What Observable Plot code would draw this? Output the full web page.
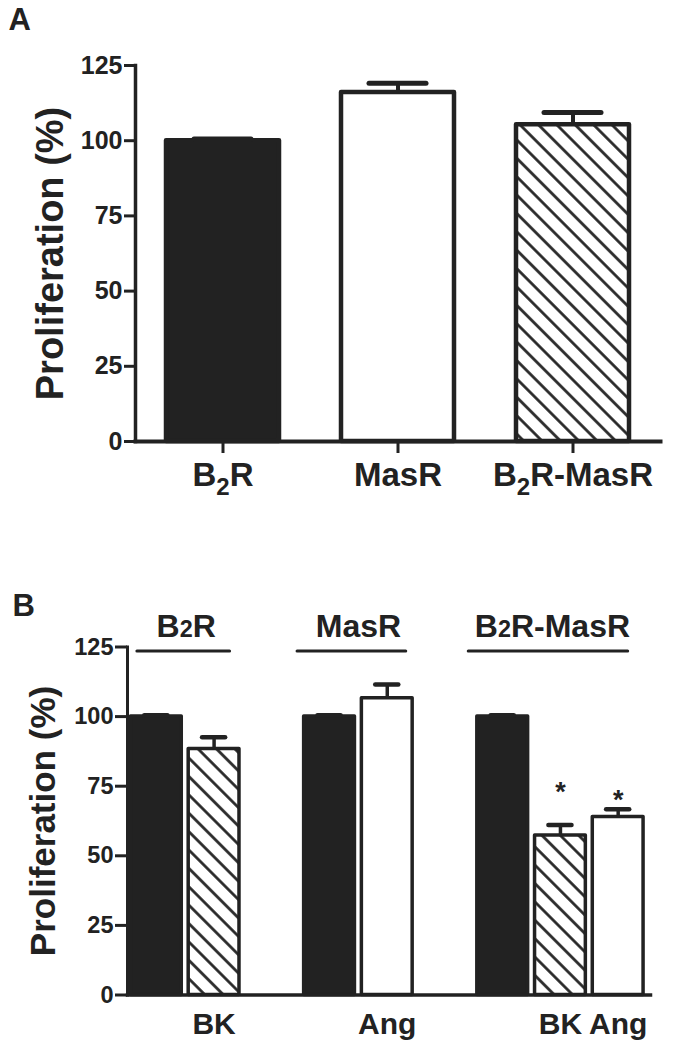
<!DOCTYPE html>
<html><head><meta charset="utf-8">
<script src="https://cdn.jsdelivr.net/npm/d3@7"></script>
<script src="https://cdn.jsdelivr.net/npm/@observablehq/plot@0.6"></script>
<style>
body{margin:0;background:#fff;}
#wrap{position:relative;width:674px;height:1050px;}
.panel{position:absolute;left:0;}
.panel svg{display:block;}
</style></head><body>
<div id="wrap">
 <div class="panel" id="pa" style="top:0"></div>
 <div class="panel" id="pb" style="top:560px"></div>
</div>
<script>
// ---------- Panel A data ----------
const receptorsA = ["B2R", "MasR", "B2R-MasR"];
const meanA = [100, 116, 105.3];
const semA = [0.6, 3.1, 4.1];
const kindA = ["solid", "open", "hatch"];

// ---------- Panel B data ----------
const slotsB = ["B2R:ctrl", "B2R:BK", "gap1", "MasR:ctrl", "MasR:Ang", "gap2", "B2R-MasR:ctrl", "B2R-MasR:BK", "B2R-MasR:Ang"];
const barSlotsB = ["B2R:ctrl", "B2R:BK", "MasR:ctrl", "MasR:Ang", "B2R-MasR:ctrl", "B2R-MasR:BK", "B2R-MasR:Ang"];
const groupB = ["B2R", "B2R", "MasR", "MasR", "B2R-MasR", "B2R-MasR", "B2R-MasR"];
const treatB = ["ctrl", "BK", "ctrl", "Ang", "ctrl", "BK", "Ang"];
const meanB = [100, 88.4, 100, 106.6, 100, 57.3, 63.9];
const semB = [0.5, 4.2, 0.5, 4.9, 0.5, 3.8, 2.8];
const starB = [null, null, null, null, null, 75, 72];
const groupsB = ["B2R", "MasR", "B2R-MasR"];

const yTicks = [0, 25, 50, 75, 100, 125];
const yLabel = "Proliferation (%)";
const panelLetters = ["A", "B"];

// ---------- styles ----------
const INK = "#222";
const FONT = "'Liberation Sans', Arial, Helvetica, sans-serif";
const kindFill = (id) => ({solid: INK, open: "white", hatch: `url(#${id})`});
const kindOfTreat = {ctrl: "solid", BK: "hatch", Ang: "open"};

function addHatch(svg, id) {
  const ns = "http://www.w3.org/2000/svg";
  const defs = document.createElementNS(ns, "defs");
  const p = document.createElementNS(ns, "pattern");
  p.setAttribute("id", id);
  p.setAttribute("patternUnits", "userSpaceOnUse");
  p.setAttribute("width", "13");
  p.setAttribute("height", "13");
  p.setAttribute("patternTransform", "rotate(45)");
  const bg = document.createElementNS(ns, "rect");
  bg.setAttribute("width", "13"); bg.setAttribute("height", "13"); bg.setAttribute("fill", "white");
  const ln = document.createElementNS(ns, "line");
  ln.setAttribute("x1", "-1"); ln.setAttribute("x2", "14");
  ln.setAttribute("y1", "6.5"); ln.setAttribute("y2", "6.5");
  ln.setAttribute("stroke", INK); ln.setAttribute("stroke-width", "2.7");
  p.appendChild(bg); p.appendChild(ln); defs.appendChild(p);
  svg.insertBefore(defs, svg.firstChild);
}

// turn "B2R..." into B + small 2 + R...
function subscript2(svg, sizeFactor, dropPx) {
  const ns = "http://www.w3.org/2000/svg";
  svg.querySelectorAll("text").forEach(t => {
    const s = t.textContent;
    if (!s.startsWith("B2R")) return;
    const fs = parseFloat(getComputedStyle(t).fontSize) || 30;
    t.textContent = "";
    const a = document.createElementNS(ns, "tspan"); a.textContent = "B";
    const b = document.createElementNS(ns, "tspan"); b.textContent = "2";
    b.setAttribute("font-size", (fs * sizeFactor) + "px");
    if (dropPx) b.setAttribute("dy", dropPx);
    const c = document.createElementNS(ns, "tspan"); c.textContent = s.slice(2);
    if (dropPx) c.setAttribute("dy", -dropPx);
    t.appendChild(a); t.appendChild(b); t.appendChild(c);
  });
}

// ---------- Panel A ----------
const dataA = receptorsA.map((r, i) => ({r, v: meanA[i], e: semA[i], k: kindA[i]}));
const fillA = kindFill("hatchA");
const plotA = Plot.plot({
  width: 674, height: 560,
  marginLeft: 135, marginRight: 14, marginTop: 65, marginBottom: 119,
  style: {fontFamily: FONT, fontWeight: "bold", color: INK, background: "white", overflow: "visible"},
  x: {domain: receptorsA, paddingInner: 0.32, paddingOuter: 0.16, label: null, axis: null},
  y: {domain: [0, 125], label: null, axis: null},
  marks: [
    ...["solid", "open", "hatch"].map(k => Plot.barY(dataA.filter(d => d.k === k), {
      x: "r", y: "v", fill: fillA[k], stroke: INK, strokeWidth: 4.5, strokeLinejoin: "round", insetLeft: 3, insetRight: 3
    })),
    Plot.ruleX(dataA, {x: "r", y1: "v", y2: d => d.v + d.e, stroke: INK, strokeWidth: 4}),
    Plot.tickY(dataA, {x: "r", y: d => d.v + d.e, stroke: INK, strokeWidth: 5, strokeLinecap: "round", insetLeft: 31, insetRight: 31}),
    Plot.frame({anchor: "left", stroke: INK, strokeWidth: 3.5}),
    Plot.frame({anchor: "bottom", stroke: INK, strokeWidth: 4}),
    Plot.axisY(yTicks, {tickSize: 11, tickPadding: 2, fontSize: 25, fontWeight: "bold", strokeWidth: 3, label: null}),
    Plot.axisX({tickSize: 12, tickPadding: 9, fontSize: 33, fontWeight: "bold", strokeWidth: 3, label: null}),
    Plot.text([yLabel], {frameAnchor: "left", textAnchor: "middle", rotate: -90, dx: -85, fontSize: 38, fontWeight: "bold", fill: INK}),
    Plot.text([panelLetters[0]], {frameAnchor: "top-left", textAnchor: "start", lineAnchor: "top", dx: -127, dy: -58, fontSize: 31, fontWeight: "bold", fill: INK})
  ]
});
addHatch(plotA, "hatchA");
subscript2(plotA, 0.8, 9);
document.getElementById("pa").appendChild(plotA);

// ---------- Panel B ----------
const dataB = barSlotsB.map((s, j) => ({
  i: slotsB.indexOf(s), g: groupB[j], t: treatB[j], k: kindOfTreat[treatB[j]],
  v: meanB[j], e: semB[j], star: starB[j]
}));
const spansB = groupsB.map(g => {
  const ii = dataB.filter(d => d.g === g).map(d => d.i);
  return {g, lo: d3.min(ii), hi: d3.max(ii), mid: d3.mean(ii)};
});
const lineInset = [[-19, -16], [-32, -19], [-34, -10]];
const labelShift = [1, 0, -8];
const fillB = kindFill("hatchB");
const half = 0.44;
const tickLabelB = new Map(dataB.filter(d => d.t !== "ctrl").map(d => [d.i, d.t]));
const topY = d3.max(yTicks);

const plotB = Plot.plot({
  width: 674, height: 490,
  marginLeft: 127, marginRight: 24, marginTop: 86.5, marginBottom: 55.5,
  style: {fontFamily: FONT, fontWeight: "bold", color: INK, background: "white", overflow: "visible"},
  x: {type: "linear", domain: [-0.5, slotsB.length - 0.44], label: null, axis: null},
  y: {domain: [0, 125], label: null, axis: null},
  marks: [
    ...["solid", "open", "hatch"].map(k => Plot.rectY(dataB.filter(d => d.k === k), {
      x1: d => d.i - half, x2: d => d.i + half, y1: 0, y2: "v",
      fill: fillB[k], stroke: INK, strokeWidth: 3.5, strokeLinejoin: "round"
    })),
    Plot.ruleX(dataB, {x: "i", y1: "v", y2: d => d.v + d.e, stroke: INK, strokeWidth: 3.5}),
    Plot.ruleY(dataB, {x1: d => d.i - 0.2, x2: d => d.i + 0.2, y: d => d.v + d.e, stroke: INK, strokeWidth: 4.5, strokeLinecap: "round"}),
    Plot.text(dataB.filter(d => d.star != null), {x: "i", y: "star", text: () => "*", fontSize: 27, fontWeight: "bold", dy: 6, fill: INK}),
    ...spansB.map((s, k) => Plot.ruleY([s], {
      x1: "lo", x2: "hi", y: () => topY, dy: 4, insetLeft: lineInset[k][0], insetRight: lineInset[k][1],
      stroke: INK, strokeWidth: 3, strokeLinecap: "round"
    })),
    ...spansB.map((s, k) => Plot.text([s], {
      x: "mid", y: () => topY, text: "g", dx: labelShift[k], dy: -20, fontSize: 32, fontWeight: "bold", fill: INK
    })),
    Plot.frame({anchor: "left", stroke: INK, strokeWidth: 3}),
    Plot.frame({anchor: "bottom", stroke: INK, strokeWidth: 3.5}),
    Plot.axisY(yTicks, {tickSize: 12, tickPadding: 2, fontSize: 23.5, fontWeight: "bold", strokeWidth: 3, label: null}),
    Plot.axisX([...tickLabelB.keys()], {tickSize: 0, tickPadding: 18, fontSize: 30, fontWeight: "bold", tickFormat: i => tickLabelB.get(i), label: null}),
    Plot.text([yLabel], {frameAnchor: "left", textAnchor: "middle", rotate: -90, dx: -84, fontSize: 35, fontWeight: "bold", fill: INK}),
    Plot.text([panelLetters[1]], {frameAnchor: "top-left", textAnchor: "start", lineAnchor: "top", dx: -115, dy: -53, fontSize: 31, fontWeight: "bold", fill: INK})
  ]
});
addHatch(plotB, "hatchB");
subscript2(plotB, 0.78, 0);
document.getElementById("pb").appendChild(plotB);
</script>
</body></html>
